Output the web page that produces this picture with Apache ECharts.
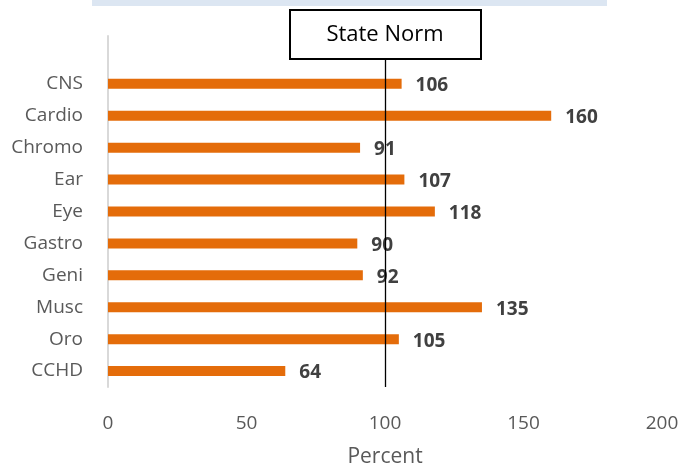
<!DOCTYPE html>
<html>
<head>
<meta charset="utf-8">
<script src="https://cdn.jsdelivr.net/npm/echarts@6/dist/echarts.min.js"></script>
<style>
html,body{margin:0;padding:0;background:#fff;}
#chart{width:683px;height:468px;}
</style>
</head>
<body>
<div id="chart"></div>
<script>
var categories = ['CNS','Cardio','Chromo','Ear','Eye','Gastro','Geni','Musc','Oro','CCHD'];
var percentValues = [106,160,91,107,118,90,92,135,105,64];
var stateNorm = 100;
var xTicks = {min:0, max:200, interval:50};
var FONT = '"Open Sans", Lato, sans-serif';

// ECharts draws first category at the bottom; add an empty top slot
var axisCats = categories.slice().reverse().concat(['']);
var axisVals = percentValues.slice().reverse().concat(['-']);

var chart = echarts.init(document.getElementById('chart'), null, {renderer:'canvas'});
var option = {
  animation:false,
  backgroundColor:'#ffffff',
  textStyle:{fontFamily:FONT},
  grid:{left:108, right:21, top:36, bottom:81, containLabel:false, outerBoundsMode:'none'},
  xAxis:{
    type:'value', min:xTicks.min, max:xTicks.max, interval:xTicks.interval,
    axisLine:{show:false}, axisTick:{show:false}, splitLine:{show:false},
    axisLabel:{color:'#595959', fontSize:19, fontFamily:FONT, margin:27},
    name:'Percent', nameLocation:'middle', nameGap:60,
    nameTextStyle:{color:'#595959', fontSize:21, fontFamily:FONT}
  },
  yAxis:{
    type:'category', data:axisCats,
    axisLine:{show:true, lineStyle:{color:'#d9d9d9', width:2}},
    axisTick:{show:false}, splitLine:{show:false},
    axisLabel:{color:'#595959', fontSize:19, fontFamily:FONT, margin:25}
  },
  series:[{
    type:'bar', data:axisVals, barWidth:10,
    itemStyle:{color:'#E46C0A'},
    label:{show:true, position:'right', distance:14, offset:[0,2],
      color:'#404040', fontWeight:'bold', fontSize:19, fontFamily:FONT},
    markLine:{
      silent:true, symbol:'none',
      lineStyle:{color:'#000000', width:1.3, type:'solid'},
      label:{show:false},
      data:[{xAxis:stateNorm}]
    }
  }]
};
chart.setOption(option);
var cx = chart.convertToPixel({xAxisIndex:0}, stateNorm);
chart.setOption({
  graphic:[
    {type:'rect', left:92, top:0, z:0, shape:{width:515, height:6}, style:{fill:'#dce6f2'}},
    {type:'rect', z:100, x:cx-95, y:10, shape:{width:191, height:49},
      style:{fill:'#ffffff', stroke:'#000000', lineWidth:2}},
    {type:'text', z:101, x:cx, y:35,
      style:{text:'State Norm', fill:'#000000', font:'22px '+FONT, textAlign:'center', textVerticalAlign:'middle'}}
  ]
});
</script>
</body>
</html>
